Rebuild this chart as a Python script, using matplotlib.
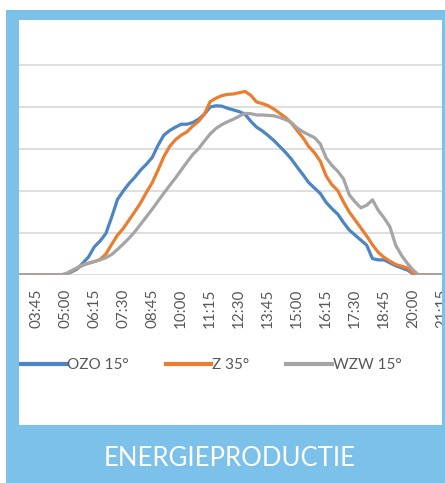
import matplotlib
matplotlib.use("Agg")
import matplotlib.pyplot as plt
from matplotlib.patches import Rectangle

# kwartierwaarden van 03:00 t/m 21:15
tijden = []
for k in range(74):
    m = 3 * 60 + 15 * k
    tijden.append("%02d:%02d" % (m // 60, m % 60))

ozo_15 = [0, 0, 0, 0, 0, 0, 0, 0, 0.02, 0.07, 0.14, 0.28, 0.43, 0.67, 0.81,
          0.99, 1.38, 1.80, 2.00, 2.18, 2.33, 2.50, 2.64, 2.80, 3.09, 3.33,
          3.44, 3.52, 3.59, 3.59, 3.63, 3.71, 3.83, 4.00, 4.03, 4.02, 3.97,
          3.93, 3.89, 3.83, 3.66, 3.52, 3.43, 3.32, 3.20, 3.06, 2.92, 2.76,
          2.57, 2.39, 2.20, 2.07, 1.94, 1.73, 1.58, 1.45, 1.25, 1.07, 0.95,
          0.83, 0.71, 0.39, 0.36, 0.36, 0.29, 0.22, 0.17, 0.12, 0.03, 0,
          0, 0, 0, 0]
z_35 = [0, 0, 0, 0, 0, 0, 0, 0, 0.02, 0.09, 0.16, 0.23, 0.28, 0.32, 0.37,
        0.50, 0.73, 0.95, 1.11, 1.31, 1.51, 1.72, 1.97, 2.20, 2.50, 2.82,
        3.06, 3.22, 3.33, 3.41, 3.55, 3.66, 3.83, 4.13, 4.21, 4.27, 4.30,
        4.31, 4.34, 4.37, 4.28, 4.12, 4.08, 4.03, 3.95, 3.85, 3.75, 3.62,
        3.44, 3.27, 3.06, 2.91, 2.71, 2.36, 2.15, 2.01, 1.74, 1.50, 1.31,
        1.12, 0.93, 0.72, 0.54, 0.42, 0.33, 0.25, 0.21, 0.17, 0.04, 0,
        0, 0, 0, 0]
wzw_15 = [0, 0, 0, 0, 0, 0, 0, 0, 0.02, 0.10, 0.17, 0.24, 0.28, 0.32, 0.36,
          0.41, 0.49, 0.61, 0.74, 0.88, 1.03, 1.21, 1.39, 1.57, 1.76, 1.95,
          2.13, 2.31, 2.50, 2.69, 2.87, 3.01, 3.19, 3.36, 3.49, 3.58, 3.65,
          3.71, 3.78, 3.85, 3.84, 3.81, 3.81, 3.80, 3.79, 3.75, 3.70, 3.63,
          3.50, 3.41, 3.34, 3.27, 3.12, 2.79, 2.61, 2.47, 2.29, 1.91, 1.74,
          1.60, 1.66, 1.79, 1.54, 1.36, 1.15, 0.71, 0.47, 0.28, 0.12, 0,
          0, 0, 0, 0]

reeksen = [("OZO 15°", ozo_15, "#4c84c4"),
           ("Z 35°", z_35, "#ea7d30"),
           ("WZW 15°", wzw_15, "#a5a5a5")]
kader = "#7cc1ea"
tekstgrijs = "#585858"
W, H = 445, 483


def rect(x0, y0, x1, y1):
    # pixelcoordinaten (oorsprong linksboven) -> figuurfracties
    return (x0 / W, 1 - y1 / H), (x1 - x0) / W, (y1 - y0) / H


fig = plt.figure(figsize=(W / 100, H / 100), dpi=100)
fig.patch.set_facecolor("white")

ax = fig.add_axes([19 / W, 1 - 275 / H, (442 - 19) / W, (275 - 23) / H])
x = list(range(len(tijden)))
for naam, waarden, kleur in reeksen:
    ax.plot(x, waarden, color=kleur, lw=2.3, label=naam, solid_joinstyle="round")

ax.set_xlim(0, (442 - 19.2) / 5.846)
ax.set_ylim(0, 6)
ax.set_yticks([0, 1, 2, 3, 4, 5])
ax.yaxis.grid(True, color="#dcdcdc", lw=1.3)
ax.set_axisbelow(True)
ax.tick_params(axis="y", left=False, labelleft=False)
ax.set_xticks(x[3::5])
ax.set_xticklabels(tijden[3::5], rotation=90, fontsize=11, color=tekstgrijs,
                   family="Lato")
ax.tick_params(axis="x", length=0, pad=10)
for s in ax.spines.values():
    s.set_visible(False)

leg = fig.legend(loc="center", bbox_to_anchor=(211 / W, 1 - 365 / H), ncol=3,
                 frameon=False, handlelength=3.0, handletextpad=0.05,
                 columnspacing=2.4, prop={"family": "Lato", "size": 11})
for t in leg.get_texts():
    t.set_color(tekstgrijs)
for l in leg.get_lines():
    l.set_linewidth(3)

# blauw kader rondom
for r in [rect(6, 10, 19, H), rect(6, 10, W, 20), rect(442, 10, W, H),
          rect(6, 425, W, H)]:
    fig.patches.append(Rectangle(r[0], r[1], r[2], transform=fig.transFigure,
                                 facecolor=kader, edgecolor="none", zorder=5))

fig.text(230 / W, 1 - 458 / H, "ENERGIEPRODUCTIE", color="white", fontsize=18.5,
         family="Lato", ha="center", va="center", zorder=6)

fig.savefig("out.png", dpi=100)
